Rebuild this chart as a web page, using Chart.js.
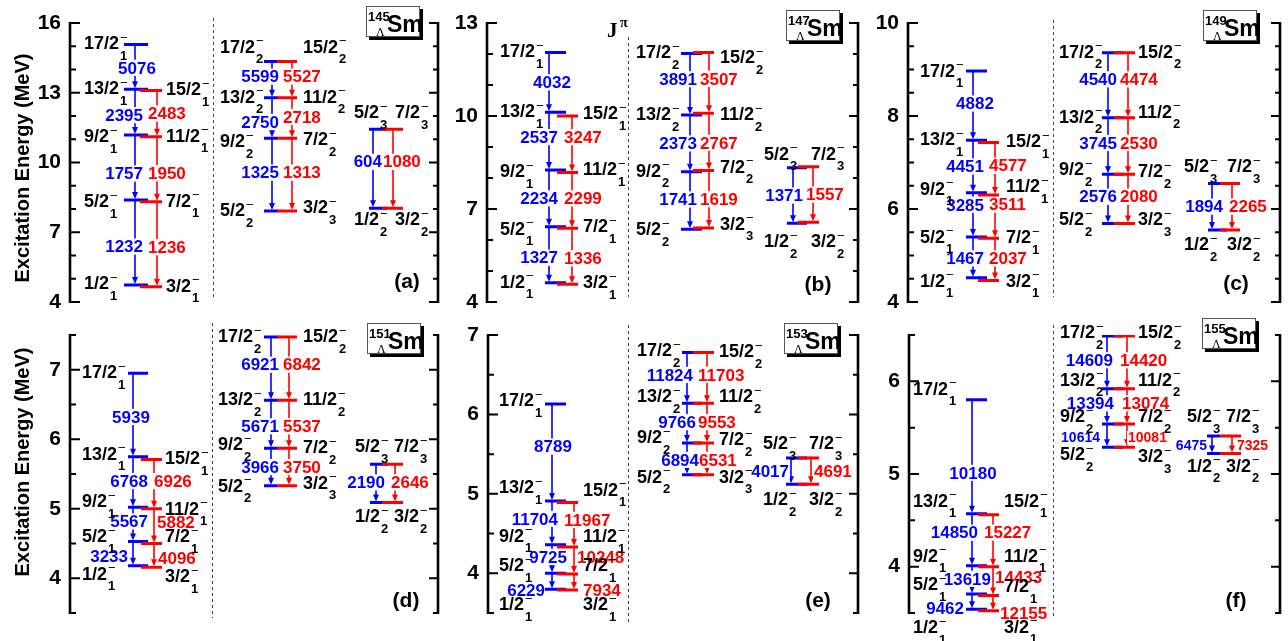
<!DOCTYPE html>
<html>
<head>
<meta charset="utf-8">
<script src="https://cdn.jsdelivr.net/npm/chart.js@4.4.1/dist/chart.umd.min.js"></script>
<style>
  body { margin: 0; background: #fff; }
  #wrap { position: relative; width: 1288px; height: 641px; }
  #wrap canvas { position: absolute; left: 0; top: 0; }
</style>
</head>
<body>
<div id="wrap"></div>
<script>
// spin labels (same for all nuclei), lowest level first
const SPIN_B1 = ['1/2', '5/2', '9/2', '13/2', '17/2'];
const SPIN_R1 = ['3/2', '7/2', '11/2', '15/2'];
const SPIN_B2 = ['5/2', '9/2', '13/2', '17/2'];
const SPIN_R2 = ['3/2', '7/2', '11/2', '15/2'];
const SPIN_B3 = ['1/2', '5/2'];
const SPIN_R3 = ['3/2', '7/2'];
const SUB_B1 = ['1', '1', '1', '1', '1'];
const SUB_R1 = ['1', '1', '1', '1'];
const SUB_B2 = ['2', '2', '2', '2'];
const SUB_R2 = ['3', '2', '2', '2'];
const SUB_B3 = ['2', '3'];
const SUB_R3 = ['2', '3'];

// excitation energies (MeV), lowest first
const sm145Blue1 = [4.73, 8.39, 11.18, 13.15, 15.08];
const sm145Red1 = [4.66, 8.31, 11.11, 13.10];
const sm145Blue2 = [7.91, 11.04, 12.79, 14.34];
const sm145Red2 = [7.91, 11.04, 12.79, 14.34];
const sm145Blue3 = [8.03, 11.43];
const sm145Red3 = [8.03, 11.43];

const sm147Blue1 = [4.62, 6.43, 8.26, 10.12, 12.05];
const sm147Red1 = [4.57, 6.38, 8.18, 10.00];
const sm147Blue2 = [6.35, 8.20, 10.03, 12.02];
const sm147Red2 = [6.39, 8.24, 10.09, 12.05];
const sm147Blue3 = [6.54, 8.33];
const sm147Red3 = [6.57, 8.36];

const sm149Blue1 = [4.52, 5.40, 6.35, 7.48, 8.97];
const sm149Red1 = [4.46, 5.37, 6.30, 7.43];
const sm149Blue2 = [5.69, 6.75, 7.96, 9.36];
const sm149Red2 = [5.69, 6.75, 7.96, 9.36];
const sm149Blue3 = [5.55, 6.55];
const sm149Red3 = [5.55, 6.55];

const sm151Blue1 = [4.18, 4.53, 5.02, 5.75, 6.95];
const sm151Red1 = [4.16, 4.50, 5.00, 5.71];
const sm151Blue2 = [5.33, 5.87, 6.56, 7.47];
const sm151Red2 = [5.33, 5.87, 6.56, 7.47];
const sm151Blue3 = [5.09, 5.64];
const sm151Red3 = [5.09, 5.64];

const sm153Blue1 = [3.80, 4.00, 4.36, 4.91, 6.13];
const sm153Red1 = [3.79, 3.99, 4.33, 4.89];
const sm153Blue2 = [5.24, 5.64, 6.14, 6.78];
const sm153Red2 = [5.24, 5.64, 6.14, 6.78];
const sm153Blue3 = [5.12, 5.45];
const sm153Red3 = [5.12, 5.45];

const sm155Blue1 = [3.54, 3.705, 4.01, 4.57, 5.80];
const sm155Red1 = [3.525, 3.69, 4.00, 4.56];
const sm155Blue2 = [5.29, 5.54, 5.92, 6.49];
const sm155Red2 = [5.29, 5.54, 5.92, 6.49];
const sm155Blue3 = [5.22, 5.41];
const sm155Red3 = [5.22, 5.41];

// transition values, lowest transition first
const sm145TBlue1 = [1232, 1757, 2395, 5076];
const sm145TRed1 = [1236, 1950, 2483];
const sm145TBlue2 = [1325, 2750, 5599];
const sm145TRed2 = [1313, 2718, 5527];
const sm145TBlue3 = [604];
const sm145TRed3 = [1080];

const sm147TBlue1 = [1327, 2234, 2537, 4032];
const sm147TRed1 = [1336, 2299, 3247];
const sm147TBlue2 = [1741, 2373, 3891];
const sm147TRed2 = [1619, 2767, 3507];
const sm147TBlue3 = [1371];
const sm147TRed3 = [1557];

const sm149TBlue1 = [1467, 3285, 4451, 4882];
const sm149TRed1 = [2037, 3511, 4577];
const sm149TBlue2 = [2576, 3745, 4540];
const sm149TRed2 = [2080, 2530, 4474];
const sm149TBlue3 = [1894];
const sm149TRed3 = [2265];

const sm151TBlue1 = [3233, 5567, 6768, 5939];
const sm151TRed1 = [4096, 5882, 6926];
const sm151TBlue2 = [3966, 5671, 6921];
const sm151TRed2 = [3750, 5537, 6842];
const sm151TBlue3 = [2190];
const sm151TRed3 = [2646];

const sm153TBlue1 = [6229, 9725, 11704, 8789];
const sm153TRed1 = [7934, 10248, 11967];
const sm153TBlue2 = [6894, 9766, 11824];
const sm153TRed2 = [6531, 9553, 11703];
const sm153TBlue3 = [4017];
const sm153TRed3 = [4691];

const sm155TBlue1 = [9462, 13619, 14850, 10180];
const sm155TRed1 = [12155, 14433, 15227];
const sm155TBlue2 = [10614, 13394, 14609];
const sm155TRed2 = [10081, 13074, 14420];
const sm155TBlue3 = [6475];
const sm155TRed3 = [7325];

const W = 1288, H = 641;
const FONT = '"Liberation Sans", Arial, Helvetica, sans-serif';
const SERIF = '"Liberation Serif", "Times New Roman", serif';
const BLUE = '#0000ff', RED = '#ff0000';

// layout (page pixels): axis box, band line spans / arrow x, label anchors and nudges
const layA = {
  box: [70, 438, 23, 302], y: [4, 16, 1], majors: [4, 7, 10, 13, 16],
  sep: [213, 18, 298], tag: [407, 282], nuc: [366, 6], title: 168,
  bands: [
    { b: [124, 148, 135], r: [140, 162, 157], jx: [84, 166], jdy: [[-1, 2, 2, 0, 0], [0, 0, 0, 0]],
      t: [[[143, 4, 'r'], [143, 6, 'r'], [143, 3, 'r'], [137, 1, 'c']], [[148, 3, 'l'], [148, 4, 'l'], [148, 0, 'l']]] },
    { b: [264, 278, 272], r: [277, 297, 292], jx: [220, 303], jdy: [[0, 4, 0, -14], [-3, 2, 0, -14]],
      t: [[[279, -2, 'r'], [279, 4, 'r'], [279, -3, 'r']], [[283, -2, 'l'], [283, -1, 'l'], [283, -3, 'l']]] },
    { b: [369, 387, 373], r: [382, 403, 393], jx: [354, 395], jdy: [[12, -16], [12, -16]],
      t: [[[382, -7, 'r']], [[383, -7, 'l']]] }
  ]
};
const layB = {
  box: [487, 858, 23, 302], y: [4, 13, 1], majors: [4, 7, 10, 13],
  sep: [628, 37, 297], tag: [818, 285], nuc: [786, 10], jpi: true,
  bands: [
    { b: [545, 566, 549], r: [557, 578, 572], jx: [500, 583], jdy: [[0, 3, 2, 0, 0], [-1, -1, -2, -2]],
      t: [[[558, 3, 'r'], [558, 0, 'r'], [558, -4, 'r'], [552, 0, 'c']], [[564, 2, 'l'], [564, -2, 'l'], [564, -7, 'l']]] },
    { b: [681, 702, 690], r: [693, 714, 709], jx: [636, 720], jdy: [[1, 0, 0, 0], [-3, -3, 2, 6]],
      t: [[[697, -1, 'r'], [697, 0, 'r'], [697, -5, 'r']], [[700, 0, 'l'], [700, 1, 'l'], [700, -4, 'l']]] },
    { b: [787, 807, 793], r: [798, 819, 813], jx: [764, 811], jdy: [[19, -13], [20, -12]],
      t: [[[803, 0, 'r']], [[806, 0, 'l']]] }
  ]
};
const layC = {
  box: [908, 1280, 23, 302], y: [4, 10, 0.5], majors: [4, 6, 8, 10],
  sep: [1053, 20, 297], tag: [1236, 284], nuc: [1203, 10],
  bands: [
    { b: [966, 987, 973], r: [978, 999, 995], jx: [920, 1006], jdy: [[4, 1, -3, 0, 1], [1, 0, -8, 0]],
      t: [[[984, 1, 'r'], [984, -10, 'r'], [984, 0, 'r'], [975, -2, 'c']], [[989, -1, 'l'], [989, -12, 'l'], [989, -3, 'l']]] },
    { b: [1102, 1123, 1108], r: [1114, 1135, 1128], jx: [1059, 1138], jdy: [[-3, -4, 0, 0], [-3, -2, -5, 0]],
      t: [[[1117, -2, 'r'], [1117, -3, 'r'], [1117, -6, 'r']], [[1120, -2, 'l'], [1120, -3, 'l'], [1120, -6, 'l']]] },
    { b: [1208, 1227, 1212], r: [1220, 1240, 1232], jx: [1184, 1227], jdy: [[15, -16], [15, -16]],
      t: [[[1223, 0, 'r']], [[1229, 0, 'l']]] }
  ]
};
const layD = {
  box: [70, 438, 335, 613], y: [3.5, 7.5, 0.5], majors: [4, 5, 6, 7],
  sep: [212, 323, 618], tag: [406, 601], nuc: [367, 323], title: 462,
  bands: [
    { b: [128, 148, 133], r: [141, 162, 154], jx: [82, 165], jdy: [[9, -4, -5, -2, 0], [10, -6, 1, 0]],
      t: [[[128, 3, 'r'], [148, -3, 'r'], [148, -1, 'r'], [131, 2, 'c']], [[158, 3, 'l'], [157, -4, 'l'], [154, -3, 'l']]] },
    { b: [264, 278, 271], r: [277, 297, 289], jx: [218, 303], jdy: [[1, -3, 0, 0], [-2, 0, 0, 0]],
      t: [[[279, 0, 'r'], [279, 2, 'r'], [279, -4, 'r']], [[283, 0, 'l'], [283, 2, 'l'], [283, -4, 'l']]] },
    { b: [370, 388, 376], r: [382, 403, 395], jx: [355, 394], jdy: [[15, -17], [15, -17]],
      t: [[[385, -1, 'r']], [[391, -1, 'l']]] }
  ]
};
const layE = {
  box: [488, 858, 335, 613], y: [3.5, 7, 0.5], majors: [4, 5, 6, 7],
  sep: [628, 325, 623], tag: [818, 601], nuc: [784, 323],
  bands: [
    { b: [545, 566, 552], r: [557, 578, 574], jx: [499, 583], jdy: [[16, -7, -8, -13, -3], [15, -8, -10, -12]],
      t: [[[545, 9, 'r'], [567, -2, 'r'], [558, -4, 'r'], [553, -6, 'c']], [[583, 8, 'l'], [577, -3, 'l'], [564, -5, 'l']]] },
    { b: [682, 702, 687], r: [693, 714, 707], jx: [637, 719], jdy: [[3, -5, -6, -1], [3, -3, -6, 0]],
      t: [[[699, 1, 'r'], [696, -1, 'r'], [693, -3, 'r']], [[699, 1, 'l'], [698, -1, 'l'], [698, -3, 'l']]] },
    { b: [786, 807, 791], r: [798, 819, 811], jx: [763, 809], jdy: [[16, -14], [16, -14]],
      t: [[[789, 0, 'r']], [[814, 0, 'l']]] }
  ]
};
const layF = {
  box: [909, 1280, 335, 613], y: [3.5, 6.5, 0.5], majors: [4, 5, 6],
  sep: [1053, 325, 617], tag: [1236, 601], nuc: [1202, 318],
  bands: [
    { b: [966, 987, 972], r: [978, 999, 993], jx: [913, 1004], jdy: [[19, -9, -9, -12, -10], [17, -8, -10, -13]],
      t: [[[964, 7, 'r'], [991, -1, 'r'], [978, -7, 'r'], [973, 16, 'c']], [[1000, 10, 'l'], [995, -4, 'l'], [984, -8, 'l']]] },
    { b: [1102, 1123, 1107], r: [1114, 1135, 1127], jx: [1060, 1138], jdy: [[8, -7, -8, -3], [10, -7, -8, -3]],
      t: [[[1100, 2, 'r', 14], [1114, -3, 'r'], [1113, -2, 'r']], [[1128, 2, 'l', 14], [1122, -3, 'l'], [1120, -2, 'l']]] },
    { b: [1207, 1220, 1212], r: [1220, 1241, 1232], jx: [1187, 1226], jdy: [[13, -19], [13, -19]],
      t: [[[1207, 0, 'r', 14]], [[1237, 0, 'l', 14]]] }
  ]
};

const SPINS = [[SPIN_B1, SPIN_R1], [SPIN_B2, SPIN_R2], [SPIN_B3, SPIN_R3]];
const SUBS = [[SUB_B1, SUB_R1], [SUB_B2, SUB_R2], [SUB_B3, SUB_R3]];

const panels = [
  { A: '145', tag: '(a)', lay: layA,
    lv: [[sm145Blue1, sm145Red1], [sm145Blue2, sm145Red2], [sm145Blue3, sm145Red3]],
    tr: [[sm145TBlue1, sm145TRed1], [sm145TBlue2, sm145TRed2], [sm145TBlue3, sm145TRed3]] },
  { A: '147', tag: '(b)', lay: layB,
    lv: [[sm147Blue1, sm147Red1], [sm147Blue2, sm147Red2], [sm147Blue3, sm147Red3]],
    tr: [[sm147TBlue1, sm147TRed1], [sm147TBlue2, sm147TRed2], [sm147TBlue3, sm147TRed3]] },
  { A: '149', tag: '(c)', lay: layC,
    lv: [[sm149Blue1, sm149Red1], [sm149Blue2, sm149Red2], [sm149Blue3, sm149Red3]],
    tr: [[sm149TBlue1, sm149TRed1], [sm149TBlue2, sm149TRed2], [sm149TBlue3, sm149TRed3]] },
  { A: '151', tag: '(d)', lay: layD,
    lv: [[sm151Blue1, sm151Red1], [sm151Blue2, sm151Red2], [sm151Blue3, sm151Red3]],
    tr: [[sm151TBlue1, sm151TRed1], [sm151TBlue2, sm151TRed2], [sm151TBlue3, sm151TRed3]] },
  { A: '153', tag: '(e)', lay: layE,
    lv: [[sm153Blue1, sm153Red1], [sm153Blue2, sm153Red2], [sm153Blue3, sm153Red3]],
    tr: [[sm153TBlue1, sm153TRed1], [sm153TBlue2, sm153TRed2], [sm153TBlue3, sm153TRed3]] },
  { A: '155', tag: '(f)', lay: layF,
    lv: [[sm155Blue1, sm155Red1], [sm155Blue2, sm155Red2], [sm155Blue3, sm155Red3]],
    tr: [[sm155TBlue1, sm155TRed1], [sm155TBlue2, sm155TRed2], [sm155TBlue3, sm155TRed3]] }
];

function levelData(E, x1, x2) {
  const d = [];
  E.forEach(e => { d.push({ x: x1, y: e }, { x: x2, y: e }, { x: x2, y: null }); });
  return d;
}

// every transition label of a panel, with its pixel spot
function transLabels(p, xs, ys) {
  const out = [];
  p.lay.bands.forEach((b, k) => {
    [0, 1].forEach(c => {
      const E = p.lv[k][c], vals = p.tr[k][c], spec = b.t[c];
      vals.forEach((v, i) => {
        const s = spec[i];
        const yMid = (ys.getPixelForValue(E[i]) + ys.getPixelForValue(E[i + 1])) / 2 + s[1];
        out.push({ txt: String(v), x: xs.getPixelForValue(s[0]), y: yMid, align: s[2], size: s[3] || 17, color: c ? RED : BLUE });
      });
    });
  });
  return out;
}

function labelBox(ctx, L) {
  ctx.font = 'bold ' + L.size + 'px ' + FONT;
  const w = ctx.measureText(L.txt).width;
  const left = L.align === 'r' ? L.x - w : L.align === 'c' ? L.x - w / 2 : L.x;
  return { left, w };
}

function drawSpin(ctx, x, y, main, sub) {
  ctx.fillStyle = '#000';
  ctx.textAlign = 'left';
  ctx.textBaseline = 'middle';
  ctx.font = 'bold 18px ' + FONT;
  ctx.fillText(main, x, y);
  const w = ctx.measureText(main).width;
  ctx.font = 'bold 13px ' + FONT;
  ctx.fillText(sub, x + w + 1, y + 12);
  ctx.font = '13px ' + FONT;
  ctx.fillText('\u2212', x + w + 1, y - 6);
}

function drawArrow(ctx, x, y1, y2, color) {
  ctx.strokeStyle = color;
  ctx.fillStyle = color;
  ctx.lineWidth = 1.6;
  ctx.beginPath();
  ctx.moveTo(x, y1);
  ctx.lineTo(x, y2 - 5);
  ctx.stroke();
  ctx.beginPath();
  ctx.moveTo(x - 3, y2 - 8);
  ctx.lineTo(x + 3, y2 - 8);
  ctx.lineTo(x, y2 - 1);
  ctx.closePath();
  ctx.fill();
}

function makePlugin(p) {
  const lay = p.lay;
  const isMajor = v => lay.majors.some(m => Math.abs(m - v) < 1e-6);
  return {
    id: 'scheme',
    beforeDatasetsDraw(chart) {
      const ctx = chart.ctx, xs = chart.scales.x, ys = chart.scales.y;
      const { left, right, top, bottom } = chart.chartArea;
      ctx.save();
      // frame axes with inward ticks
      ctx.strokeStyle = '#000';
      ctx.lineWidth = 2.6;
      ctx.beginPath();
      ctx.moveTo(left, top - 1); ctx.lineTo(left, bottom + 1);
      ctx.moveTo(right, top - 1); ctx.lineTo(right, bottom + 1);
      ctx.stroke();
      ctx.lineWidth = 2;
      ys.ticks.forEach(t => {
        const y = ys.getPixelForValue(t.value);
        const len = isMajor(t.value) ? 10 : 6;
        ctx.beginPath();
        ctx.moveTo(left, y); ctx.lineTo(left + len, y);
        ctx.moveTo(right, y); ctx.lineTo(right - len + 1, y);
        ctx.stroke();
      });
      // dashed separator
      ctx.strokeStyle = '#444';
      ctx.lineWidth = 1;
      ctx.setLineDash([3, 3]);
      ctx.beginPath();
      ctx.moveTo(lay.sep[0] + 0.5, lay.sep[1]);
      ctx.lineTo(lay.sep[0] + 0.5, lay.sep[2]);
      ctx.stroke();
      ctx.setLineDash([]);
      // transition arrows
      lay.bands.forEach((b, k) => {
        [b.b, b.r].forEach((g, c) => {
          const E = p.lv[k][c];
          const ax = xs.getPixelForValue(g[2]);
          for (let i = 0; i < E.length - 1; i++) {
            drawArrow(ctx, ax, ys.getPixelForValue(E[i + 1]), ys.getPixelForValue(E[i]), c ? RED : BLUE);
          }
        });
      });
      // white boxes behind the transition values
      transLabels(p, xs, ys).forEach(L => {
        const bx = labelBox(ctx, L);
        const h = L.size * 0.95;
        ctx.fillStyle = '#fff';
        ctx.fillRect(bx.left - 1, L.y - h / 2, bx.w + 2, h);
      });
      ctx.restore();
    },
    afterDatasetsDraw(chart) {
      const ctx = chart.ctx, xs = chart.scales.x, ys = chart.scales.y;
      ctx.save();
      transLabels(p, xs, ys).forEach(L => {
        const bx = labelBox(ctx, L);
        ctx.fillStyle = L.color;
        ctx.textAlign = 'left';
        ctx.textBaseline = 'middle';
        ctx.fillText(L.txt, bx.left, L.y + 1);
      });
      lay.bands.forEach((b, k) => {
        [0, 1].forEach(c => {
          const E = p.lv[k][c];
          E.forEach((e, i) => {
            drawSpin(ctx, xs.getPixelForValue(b.jx[c]), ys.getPixelForValue(e) + b.jdy[c][i], SPINS[k][c][i], SUBS[k][c][i]);
          });
        });
      });
      // nucleus box
      const nx = lay.nuc[0], ny = lay.nuc[1], bw = 54, bh = 31;
      ctx.fillStyle = '#000';
      ctx.fillRect(nx + 3, ny + 3, bw, bh);
      ctx.fillStyle = '#fff';
      ctx.fillRect(nx, ny, bw, bh);
      ctx.strokeStyle = '#555';
      ctx.lineWidth = 1;
      ctx.strokeRect(nx + 0.5, ny + 0.5, bw - 1, bh - 1);
      ctx.fillStyle = '#000';
      ctx.textAlign = 'left';
      ctx.textBaseline = 'alphabetic';
      ctx.font = 'bold 13px ' + FONT;
      ctx.fillText(p.A, nx + 2, ny + 15);
      ctx.font = '12px ' + SERIF;
      ctx.fillText('\u039B', nx + 10, ny + 30);
      ctx.font = 'bold 23px ' + FONT;
      ctx.fillText('Sm', nx + 21, ny + 26);
      // panel tag
      ctx.font = 'bold 21px ' + FONT;
      ctx.textAlign = 'center';
      ctx.textBaseline = 'middle';
      ctx.fillText(p.tag, lay.tag[0], lay.tag[1]);
      if (lay.title) {
        ctx.save();
        ctx.translate(23, lay.title);
        ctx.rotate(-Math.PI / 2);
        ctx.font = 'bold 20px ' + FONT;
        ctx.fillText('Excitation Energy (MeV)', 0, 0);
        ctx.restore();
      }
      if (lay.jpi) {
        ctx.textAlign = 'left';
        ctx.textBaseline = 'alphabetic';
        ctx.font = 'bold 21px ' + SERIF;
        ctx.fillText('J', 607, 37);
        ctx.font = 'bold 14px ' + SERIF;
        ctx.fillText('\u03C0', 620, 27);
      }
      ctx.restore();
    }
  };
}

const wrap = document.getElementById('wrap');
panels.forEach(p => {
  const lay = p.lay;
  const cv = document.createElement('canvas');
  cv.width = W;
  cv.height = H;
  wrap.appendChild(cv);
  const isMajor = v => lay.majors.some(m => Math.abs(m - v) < 1e-6);
  const datasets = [];
  lay.bands.forEach((b, k) => {
    datasets.push({ data: levelData(p.lv[k][1], b.r[0], b.r[1]), borderColor: RED });
    datasets.push({ data: levelData(p.lv[k][0], b.b[0], b.b[1]), borderColor: BLUE });
  });
  datasets.forEach(d => Object.assign(d, { borderWidth: 3, pointRadius: 0, spanGaps: false, fill: false, tension: 0, borderCapStyle: 'butt' }));

  new Chart(cv, {
    type: 'line',
    data: { datasets },
    options: {
      responsive: false,
      animation: false,
      events: [],
      layout: { padding: { left: lay.box[0] - 40, right: W - lay.box[1], top: lay.box[2], bottom: H - lay.box[3] } },
      plugins: { legend: { display: false }, tooltip: { enabled: false } },
      scales: {
        x: { type: 'linear', display: false, min: lay.box[0], max: lay.box[1] },
        y: {
          type: 'linear', min: lay.y[0], max: lay.y[1],
          afterFit: s => { s.width = 40; },
          grid: { display: false, drawTicks: false },
          border: { display: false },
          ticks: {
            stepSize: lay.y[2], autoSkip: false, padding: 9, color: '#000',
            font: { family: FONT, size: 21, weight: 'bold' },
            callback: v => isMajor(v) ? String(v) : ''
          }
        }
      }
    },
    plugins: [makePlugin(p)]
  });
});
</script>
</body>
</html>
